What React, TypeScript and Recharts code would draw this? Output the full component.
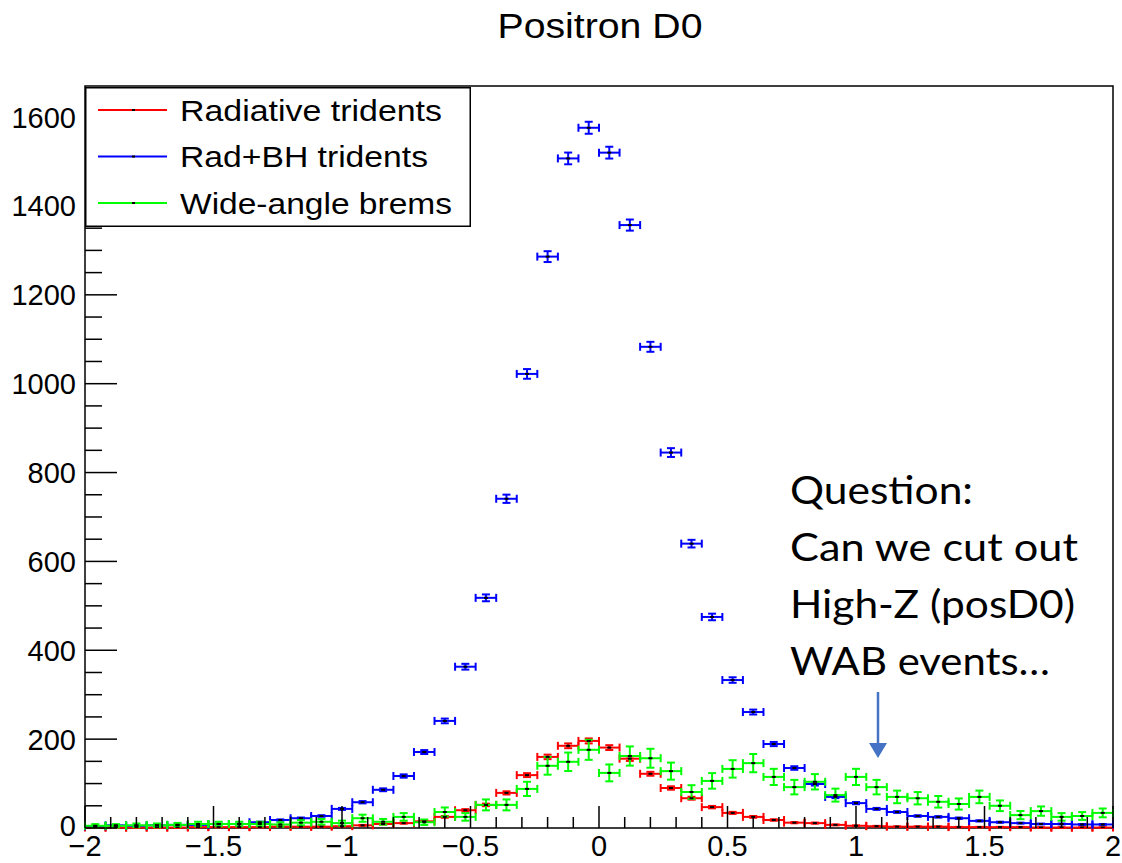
import React from "react";
import { ScatterChart, Scatter, XAxis, YAxis, ErrorBar, ReferenceArea, Legend } from "recharts";

// 50 bins of width 0.08 between -2 and 2
const binCenters = [
  -1.96, -1.88, -1.8, -1.72, -1.64, -1.56, -1.48, -1.4, -1.32, -1.24,
  -1.16, -1.08, -1.0, -0.92, -0.84, -0.76, -0.68, -0.6, -0.52, -0.44,
  -0.36, -0.28, -0.2, -0.12, -0.04, 0.04, 0.12, 0.2, 0.28, 0.36,
  0.44, 0.52, 0.6, 0.68, 0.76, 0.84, 0.92, 1.0, 1.08, 1.16,
  1.24, 1.32, 1.4, 1.48, 1.56, 1.64, 1.72, 1.8, 1.88, 1.96,
];
const halfBin = 0.04;

const radiative = [
  1, 1, 1, 1, 1, 2, 2, 2, 2, 3,
  3, 3, 4, 6, 9, 11, 15, 25, 40, 52,
  79, 119, 160, 185, 196, 181, 156, 122, 90, 67,
  47, 34, 25, 18, 12, 11, 7, 5, 4, 3,
  3, 3, 2, 2, 2, 2, 1, 1, 1, 1,
];
const radiativeErr = [
  0.4, 0.4, 0.4, 0.4, 0.4, 0.6, 0.6, 0.6, 0.6, 0.7,
  0.7, 0.7, 0.8, 1, 1.2, 1.3, 1.5, 2, 2.5, 2.9,
  3.6, 4.4, 5.1, 5.4, 5.6, 5.4, 5, 4.4, 3.8, 3.3,
  2.7, 2.3, 2, 1.7, 1.4, 1.3, 1.1, 0.9, 0.8, 0.7,
  0.7, 0.7, 0.6, 0.6, 0.6, 0.6, 0.4, 0.4, 0.4, 0.4,
];

const radBH = [
  4, 6, 5, 6, 7, 7, 9, 9, 13, 18,
  22, 27, 43, 58, 86, 117, 171, 241, 363, 518,
  741, 1022, 1286, 1507, 1576, 1520, 1357, 1083, 845, 640,
  475, 333, 261, 189, 135, 99, 70, 56, 43, 36,
  27, 25, 22, 16, 13, 11, 9, 9, 8, 8,
];
const radBHErr = [
  0.7, 0.8, 0.8, 0.8, 0.9, 0.9, 1, 1, 1.2, 1.4,
  1.6, 1.8, 2.2, 2.6, 3.2, 3.7, 4.4, 5.3, 6.5, 7.7,
  9.3, 10.9, 12.2, 13.2, 13.5, 13.3, 12.5, 11.2, 9.9, 8.6,
  7.4, 6.2, 5.5, 4.7, 4, 3.4, 2.8, 2.5, 2.2, 2,
  1.8, 1.7, 1.6, 1.4, 1.2, 1.1, 1, 1, 1, 1,
];

const wab = [
  5, 5, 6, 6, 7, 9, 9, 9, 9, 8,
  12, 14, 11, 22, 14, 25, 13, 36, 25, 52,
  52, 88, 140, 149, 176, 124, 162, 157, 128, 81,
  106, 133, 146, 115, 92, 104, 74, 115, 92, 70,
  67, 59, 54, 70, 50, 29, 38, 25, 27, 34,
];
const wabErr = [
  3.8, 3.8, 4.2, 4.2, 4.5, 5.1, 5.1, 5.1, 5.1, 4.8,
  5.9, 6.4, 5.6, 8, 6.4, 8.5, 6.1, 10.2, 8.5, 12.3,
  12.3, 16, 20, 20.8, 22.6, 19, 21.6, 21.3, 19.2, 15.3,
  17.5, 19.6, 20.5, 18.2, 16.3, 17.3, 14.6, 18.2, 16.3, 14.2,
  13.9, 13, 12.5, 14.2, 12, 9.2, 10.5, 8.5, 8.8, 9.9,
];

const seriesNames = ["Radiative tridents", "Rad+BH tridents", "Wide-angle brems"];
const seriesColors = ["#ff0000", "#0000ff", "#00ff00"];
const legendTextWidths = [262, 248, 272];

const xMajorTicks = [-2, -1.5, -1, -0.5, 0, 0.5, 1, 1.5, 2];
const yMajorTicks = [0, 200, 400, 600, 800, 1000, 1200, 1400, 1600];
const yMax = 1670;

const annotationLines = ["Question:", "Can we cut out", "High-Z (posD0)", "WAB events…"];
const annotationWidths = [183, 288, 285, 260];

const FONT = "'Liberation Sans', Arial, Helvetica, sans-serif";

const xTicks: number[] = [];
for (let k = -20; k <= 20; k++) xTicks.push(k / 10);
const yTicks: number[] = [];
for (let v = 0; v <= 1650; v += 50) yTicks.push(v);

const toRows = (vals: number[], errs: number[]) =>
  binCenters.map((x, i) => ({ x, y: vals[i], ey: errs[i], ex: halfBin }));

const fmt = (v: number) => String(v).replace("-", "\u2212");

function XTick(props: any) {
  const { x, y, payload } = props;
  const v = payload.value as number;
  const major = xMajorTicks.some((t) => Math.abs(t - v) < 1e-6);
  return (
    <g>
      <line x1={x} x2={x} y1={y} y2={y - (major ? 22 : 11)} stroke="#000" strokeWidth={1.5} />
      {major && (
        <text x={x} y={y + 28} textAnchor="middle" fontSize={29} fontFamily={FONT} fill="#000">
          {fmt(v)}
        </text>
      )}
    </g>
  );
}

function YTick(props: any) {
  const { x, y, payload } = props;
  const v = payload.value as number;
  const major = yMajorTicks.includes(v);
  return (
    <g>
      <line x1={x} x2={x + (major ? 32 : 17)} y1={y} y2={y} stroke="#000" strokeWidth={1.5} />
      {major && (
        <text x={x - 9} y={y + (v === 0 ? 8 : 10.5)} textAnchor="end" fontSize={29} fontFamily={FONT} fill="#000">
          {v}
        </text>
      )}
    </g>
  );
}

const Marker = (p: any) => <rect x={p.cx - 2} y={p.cy - 1} width={4} height={2} fill="#000" />;

function LegendBox() {
  return (
    <svg width={386} height={140} style={{ display: "block" }}>
      <rect x={0.75} y={0.75} width={384.5} height={138.5} fill="#fff" stroke="#000" strokeWidth={1.5} />
      {seriesNames.map((name, i) => {
        const cy = 23 + i * 46.5;
        return (
          <g key={name}>
            <line x1={13} x2={82} y1={cy} y2={cy} stroke={seriesColors[i]} strokeWidth={2} />
            <rect x={47} y={cy - 1} width={3} height={2} fill="#000" />
            <text
              x={95}
              y={cy + 10.5}
              fontSize={29}
              fontFamily={FONT}
              textLength={legendTextWidths[i]}
              lengthAdjust="spacingAndGlyphs"
              fill="#000"
            >
              {name}
            </text>
          </g>
        );
      })}
    </svg>
  );
}

export default function App() {
  const series = [toRows(radiative, radiativeErr), toRows(radBH, radBHErr), toRows(wab, wabErr)];
  return (
    <div style={{ position: "absolute", left: 0, top: 0, width: 1122, height: 863, background: "#fff" }}>
      <ScatterChart width={1122} height={863} margin={{ top: 86, right: 9, bottom: 0, left: 0 }}>
        <XAxis
          type="number"
          dataKey="x"
          domain={[-2, 2]}
          ticks={xTicks}
          interval={0}
          tick={<XTick />}
          tickLine={false}
          tickSize={0}
          tickMargin={0}
          axisLine={false}
          height={35}
          allowDataOverflow
        />
        <YAxis
          type="number"
          dataKey="y"
          domain={[0, yMax]}
          ticks={yTicks}
          interval={0}
          tick={<YTick />}
          tickLine={false}
          tickSize={0}
          tickMargin={0}
          axisLine={false}
          width={85}
          allowDataOverflow
        />
        <ReferenceArea x1={-2} x2={2} y1={0} y2={yMax} fill="none" fillOpacity={0} stroke="#000" strokeWidth={1.5} />
        {series.map((rows, i) => (
          <Scatter
            key={seriesNames[i]}
            name={seriesNames[i]}
            data={rows}
            fill={seriesColors[i]}
            shape={Marker}
            isAnimationActive={false}
          >
            <ErrorBar dataKey="ex" direction="x" width={4} stroke={seriesColors[i]} strokeWidth={2} />
            <ErrorBar dataKey="ey" direction="y" width={4} stroke={seriesColors[i]} strokeWidth={2} />
          </Scatter>
        ))}
        <Legend
          layout="horizontal"
          verticalAlign="middle"
          align="center"
          width={386}
          height={140}
          wrapperStyle={{ left: 85, top: 87, width: 386, height: 140 }}
          content={() => <LegendBox />}
        />
      </ScatterChart>
      <svg
        width={1122}
        height={863}
        style={{ position: "absolute", left: 0, top: 0, pointerEvents: "none" }}
      >
        <text
          x={600}
          y={38}
          textAnchor="middle"
          fontSize={35}
          fontFamily={FONT}
          textLength={205}
          lengthAdjust="spacingAndGlyphs"
          fill="#000"
        >
          Positron D0
        </text>
        {annotationLines.map((line, i) => (
          <text
            key={line}
            x={790}
            y={504 + i * 57}
            fontSize={38}
            fontFamily="Lato, 'Open Sans', sans-serif"
            textLength={annotationWidths[i]}
            lengthAdjust="spacingAndGlyphs"
            fill="#000"
          >
            {line}
          </text>
        ))}
        <line x1={878} x2={878} y1={692} y2={745} stroke="#4472C4" strokeWidth={2.5} />
        <polygon points="869,743 887,743 878,758" fill="#4472C4" />
      </svg>
    </div>
  );
}
